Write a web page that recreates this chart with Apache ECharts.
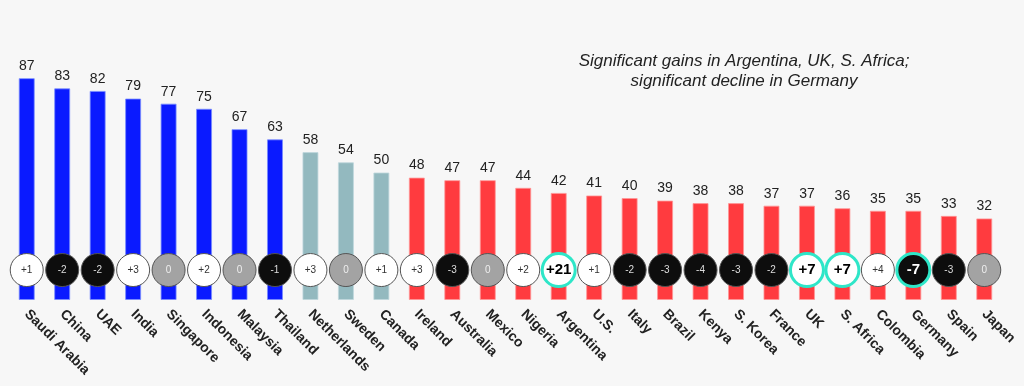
<!DOCTYPE html>
<html><head><meta charset="utf-8">
<script src="https://cdn.jsdelivr.net/npm/echarts@6/dist/echarts.min.js"></script>
<style>html,body{margin:0;padding:0;background:#f7f7f7;}#c{width:1024px;height:386px;}</style>
</head><body><div id="c"></div>
<script>
const categories = ["Saudi Arabia","China","UAE","India","Singapore","Indonesia","Malaysia","Thailand","Netherlands","Sweden","Canada","Ireland","Australia","Mexico","Nigeria","Argentina","U.S.","Italy","Brazil","Kenya","S. Korea","France","UK","S. Africa","Colombia","Germany","Spain","Japan"];
const values = [87,83,82,79,77,75,67,63,58,54,50,48,47,47,44,42,41,40,39,38,38,37,37,36,35,35,33,32];
const changes = [1,-2,-2,3,0,2,0,-1,3,0,1,3,-3,0,2,21,1,-2,-3,-4,-3,-2,7,7,4,-7,-3,0];
const groups = ["high","high","high","high","high","high","high","high","mid","mid","mid","low","low","low","low","low","low","low","low","low","low","low","low","low","low","low","low","low"];
const significant = ["Argentina","UK","S. Africa","Germany"];
const annotation = "Significant gains in Argentina, UK, S. Africa;\nsignificant decline in Germany";

const groupColor = {high:"#0a1aff", mid:"#93b9bf", low:"#ff3b3f"};
const groupBorder = {high:"rgba(120,140,255,0.8)", mid:"rgba(190,215,220,0.8)", low:"rgba(255,150,150,0.8)"};
const CIRCLE_LEVEL = 11.75;

const barData = values.map((v,i)=>({value:v, itemStyle:{color:groupColor[groups[i]], borderColor:groupBorder[groups[i]], borderWidth:1}}));
const circleData = changes.map((c,i)=>{
  const sig = significant.includes(categories[i]);
  let fill = c>0 ? "#ffffff" : (c<0 ? "#0d0d0d" : "#a3a3a3");
  let txt = c>0 ? "#333" : (c<0 ? "#ddd" : "#eee");
  if (sig) txt = c>0 ? "#000" : "#fff";
  return {
    value:[i, CIRCLE_LEVEL],
    name: (c>0?"+":"")+c,
    itemStyle:{color:fill, opacity:1, borderColor: sig ? "#2ee6c8" : "#555", borderWidth: sig ? 3 : 1},
    label:{color:txt, fontSize: sig ? 15 : 10, fontWeight: sig ? "bold":"normal"}
  };
});

const chart = echarts.init(document.getElementById('c'));
chart.setOption({
  backgroundColor:"#f7f7f7",
  animation:false,
  title:{text:annotation, left:739, top:46, textAlign:"center",
    textStyle:{fontStyle:"italic", fontWeight:"normal", fontSize:17, lineHeight:20, color:"#222", fontFamily:"Liberation Sans, Arial, sans-serif"}},
  grid:{left:9, right:22, top:45, bottom:86},
  xAxis:{type:"category", data:categories, axisLine:{show:false}, axisTick:{show:false},
    axisLabel:{rotate:-45, interval:0, margin:12, fontSize:14, fontWeight:"bold", color:"#222", fontFamily:"Liberation Sans, Arial, sans-serif"}},
  yAxis:{type:"value", min:0, max:100, show:false, splitLine:{show:false}},
  series:[
    {type:"bar", data:barData, barWidth:16,
      label:{show:true, position:"top", distance:5, fontSize:14, color:"#222", fontFamily:"Liberation Sans, Arial, sans-serif"}},
    {type:"scatter", data:circleData, symbol:"circle", symbolSize:33, z:5, itemStyle:{opacity:1},
      label:{show:true, position:"inside", formatter:p=>p.name, fontFamily:"Liberation Sans, Arial, sans-serif"}}
  ]
});
</script></body></html>
